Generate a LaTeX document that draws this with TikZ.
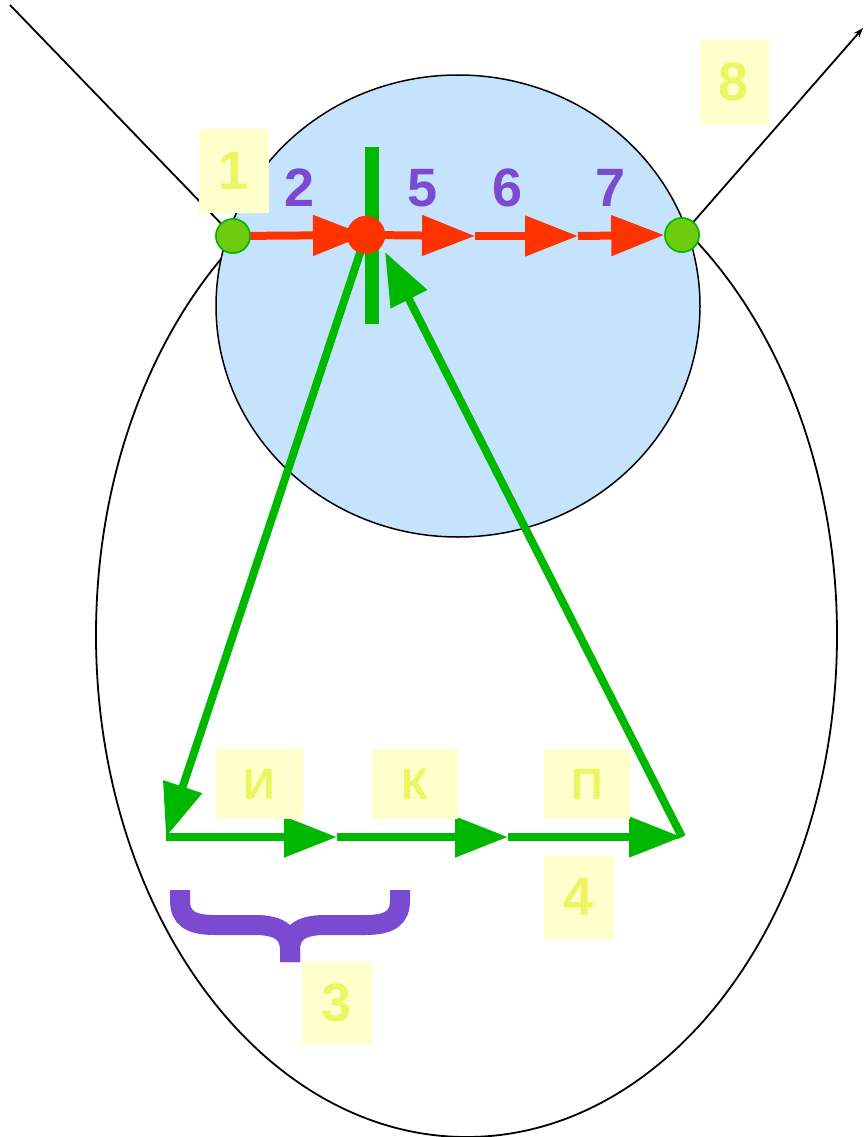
\documentclass[tikz,border=0pt]{standalone}
\usepackage{fontspec}
\setmainfont{Liberation Sans}
\usetikzlibrary{arrows.meta}
\definecolor{skyfill}{HTML}{C5E3FC}
\definecolor{grn}{HTML}{00B800}
\definecolor{dotgrn}{HTML}{6FCB10}
\definecolor{redc}{HTML}{FF3300}
\definecolor{purp}{HTML}{7A4BD0}
\definecolor{boxy}{HTML}{FFFFCC}
\definecolor{texty}{HTML}{EEF562}
\begin{document}
\begin{tikzpicture}[x=1pt,y=-1pt,
  tri/.style={-{Triangle[length=53pt,width=39pt]}},
  redarr/.style={tri, color=redc, line width=8pt},
  grnarr/.style={tri, color=grn, line width=8pt},
  gdot/.style={circle, fill=dotgrn, draw=grn, line width=1.5pt, minimum size=34pt, inner sep=0pt},
  rdot/.style={circle, fill=redc, minimum size=38pt, inner sep=0pt},
  ybox/.style={fill=boxy, text=texty, inner sep=0pt, font=\fontsize{54}{54}\selectfont\bfseries},
  ylet/.style={ybox, font=\fontsize{44}{44}\selectfont\bfseries},
  plabel/.style={text=purp, inner sep=0pt, font=\fontsize{54}{54}\selectfont\bfseries},
  thin/.style={draw=black, line width=1.8pt}
]
\useasboundingbox (0,0) rectangle (865,1137);
% big ellipse
\draw[thin] (466.5,635) ellipse [x radius=370.5, y radius=502];
% named points
\coordinate (tl) at (10,5);
\coordinate (tr) at (863,28);
\coordinate (a5) at (475,236);
\coordinate (a6) at (578,236);
\coordinate (b0) at (166,837);
\coordinate (b1) at (337,837);
\coordinate (b2) at (508,837);
\coordinate (b3) at (682,837);
\coordinate (ctip) at (385,252);
\coordinate (bartop) at (372,147);
\coordinate (barbot) at (372,324);
% big circle
\draw[thin, fill=skyfill, line width=1.5pt] (458,306) ellipse [x radius=242, y radius=231];
% dots (placed first to be named)
\path (233,236) node[gdot] (p1) {};
\path (682,235) node[gdot] (p8) {};
\path (366,235) node[rdot] (c) {};
% black lines
\draw[thin] (tl) -- (p1.center);
\draw[thin, -{Stealth[length=10pt,width=7pt]}] (p8.center) -- (tr);
% green bar
\draw[grn, line width=14pt] (bartop) -- (barbot);
% green arrows
\draw[grnarr] (c.center) -- (b0);
\draw[grnarr] (b0) -- (b1);
\draw[grnarr] (b1) -- (b2);
\draw[grnarr] (b2) -- (b3);
\draw[grnarr, line join=round] (b3) -- (ctip);
% red arrows
\draw[redarr] (p1.center) -- (c.center);
\draw[redarr] (c.center) -- (a5);
\draw[redarr] (a5) -- (a6);
\draw[redarr] (a6) -- (p8.west);
% redraw dots on top
\node[rdot] at (c) {};
\node[gdot] at (p1) {};
\node[gdot] at (p8) {};
% yellow boxes
\node[ybox, minimum width=70pt, minimum height=84pt] (l1) at (234,171) {1};
\node[ybox, minimum width=69pt, minimum height=84pt] (l8) at (734,82) {8};
\node[ylet, minimum width=87pt, minimum height=70pt] (li) at (259,784) {И};
\node[ylet, minimum width=86pt, minimum height=70pt] (lk) at (415,784) {К};
\node[ylet, minimum width=86pt, minimum height=70pt] (lp) at (587,784) {П};
\node[ybox, minimum width=70pt, minimum height=83pt] (l4) at (579,897) {4};
\node[ybox, minimum width=70pt, minimum height=83pt] (l3) at (337,1003) {3};
% purple labels
\node[plabel] (n2) at (300,188) {2};
\node[plabel] (n5) at (423,188) {5};
\node[plabel] (n6) at (508,188) {6};
\node[plabel] (n7) at (611,188) {7};
% brace
\draw[purp, line width=20pt] (180,890) -- (180,900) .. controls (180,918) and (190,925) .. (215,925) -- (255,925) .. controls (282,925) and (290,935) .. (290,950) -- (290,962);
\draw[purp, line width=20pt] (400,890) -- (400,900) .. controls (400,918) and (390,925) .. (365,925) -- (325,925) .. controls (298,925) and (290,935) .. (290,950) -- (290,962);
\end{tikzpicture}
\end{document}
